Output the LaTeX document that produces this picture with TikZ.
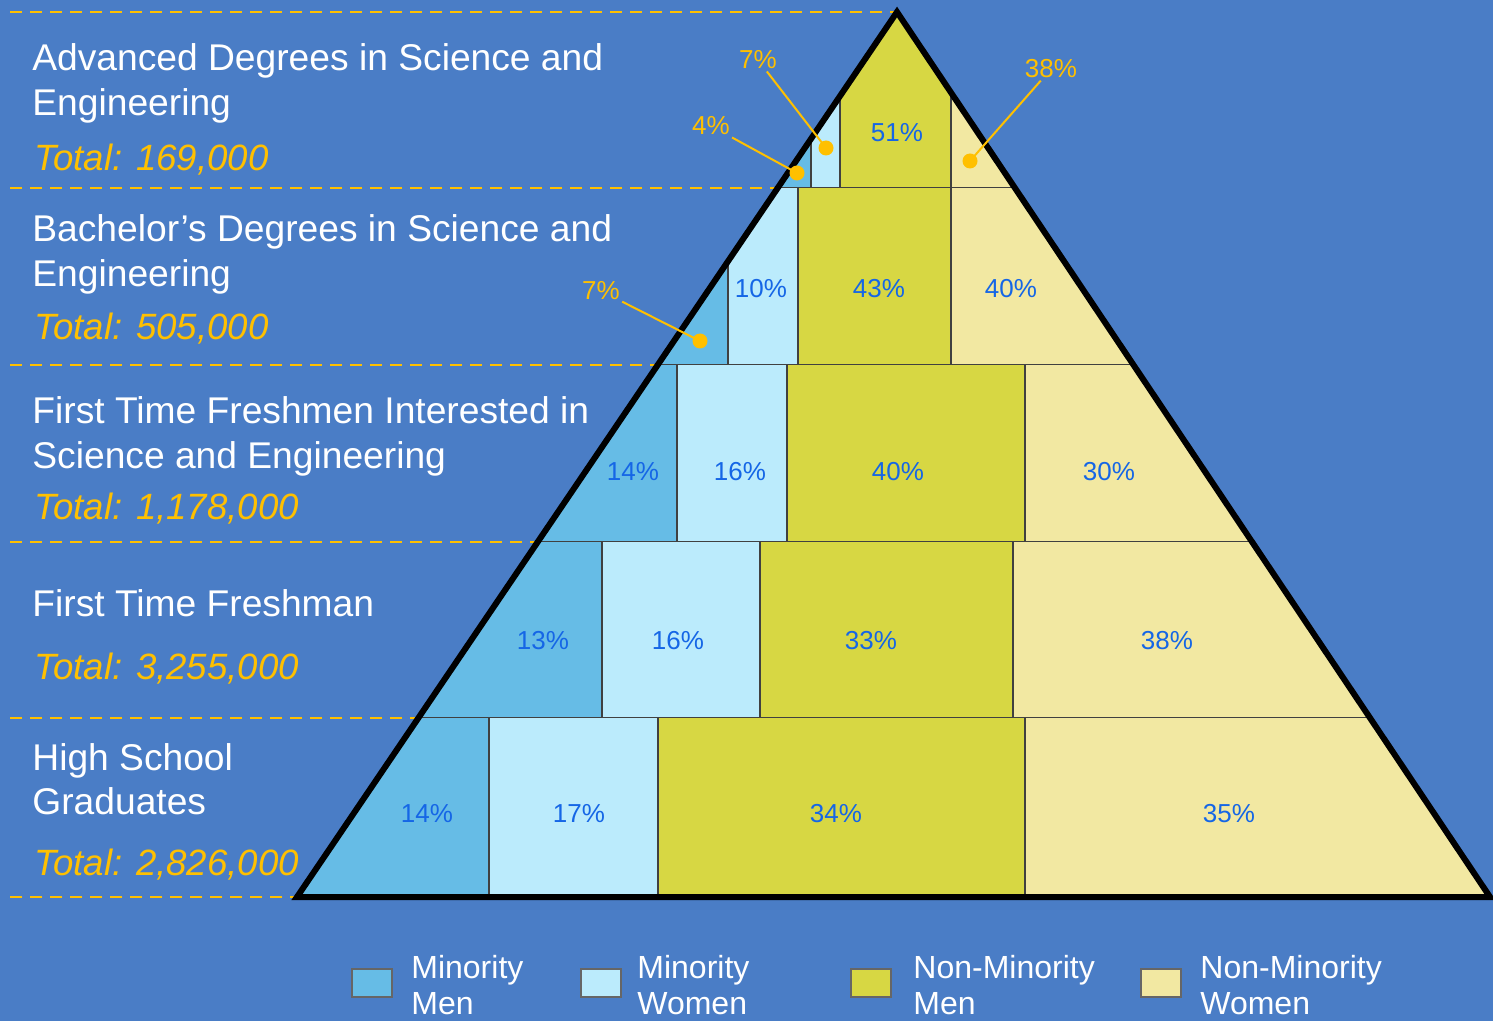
\documentclass[tikz,border=0pt]{standalone}
\usepackage{fontspec}
\setmainfont{Liberation Sans}
\usetikzlibrary{calc,positioning}

\definecolor{slide}{HTML}{4A7DC6}
\definecolor{gold}{HTML}{FFC000}
\definecolor{pctblue}{HTML}{1566E6}
\definecolor{mmen}{HTML}{66BCE6}
\definecolor{mwomen}{HTML}{BBEBFC}
\definecolor{nmen}{HTML}{D7D743}
\definecolor{nwomen}{HTML}{F2E8A2}

\tikzset{
  guide/.style={gold, line width=1.3pt, dash pattern=on 6pt off 4pt},
  cellline/.style={draw=black!75, line width=0.8pt},
  outline/.style={black, line width=3pt, line join=miter},
  stage/.style={anchor=base west, text=white, font=\fontsize{18.6}{22}\selectfont, inner sep=0pt},
  total/.style={anchor=base west, text=gold, font=\fontsize{18.3}{22}\selectfont\itshape, inner sep=0pt},
  pct/.style={text=pctblue, font=\fontsize{13}{15}\selectfont, inner sep=1pt},
  callout/.style={text=gold, font=\fontsize{13}{15}\selectfont, inner sep=1pt},
  dot/.style={circle, fill=gold, minimum size=7.5pt, inner sep=0pt},
  pointer/.style={gold, line width=1pt},
  keybox/.style={draw=black!60, line width=1.2pt, minimum width=20pt, minimum height=14pt, inner sep=0pt},
  keytext/.style={anchor=west, text=white, align=left, font=\fontsize{16}{18}\selectfont, inner sep=0pt}
}

\begin{document}
\begin{tikzpicture}[x=0.5pt, y=-0.5pt]
\useasboundingbox (0,0) rectangle (1493,1021);
\fill[slide] (0,0) rectangle (1493,1021);

\coordinate (apex) at (897,12);
\coordinate (bl) at (297,897);
\coordinate (br) at (1490,897);

% level guides
\draw[guide] (10,12) -- (apex);
\foreach \y/\xe in {188/779, 365/659, 542/539, 718/418, 897/297}
  \draw[guide] (10,\y) -- (\xe,\y);

% pyramid cells
\begin{scope}
\clip (apex) -- (br) -- (bl) -- cycle;
\foreach \yt/\yb/\a/\b/\c in {12/188/811/840/951, 188/365/728/798/951,
    365/542/677/787/1025, 542/718/602/760/1013, 718/897/489/658/1025}{
  \fill[mmen] (200,\yt) rectangle (\a,\yb);
  \fill[mwomen] (\a,\yt) rectangle (\b,\yb);
  \fill[nmen] (\b,\yt) rectangle (\c,\yb);
  \fill[nwomen] (\c,\yt) rectangle (1493,\yb);
  \draw[cellline] (\a,\yt) -- (\a,\yb) (\b,\yt) -- (\b,\yb) (\c,\yt) -- (\c,\yb);
  \draw[cellline] (200,\yb) -- (1493,\yb);
}
\end{scope}
\draw[outline] (apex) -- (br) -- (bl) -- cycle;

% left captions
\node[stage] (adv1) at (32,71) {Advanced Degrees in Science and};
\node[stage] (adv2) at (32,116) {Engineering};
\node[total] (advt) at (34,171) {Total: 169,000};
\node[stage] (bac1) at (32,242) {Bachelor’s Degrees in Science and};
\node[stage] (bac2) at (32,287) {Engineering};
\node[total] (bact) at (34,340) {Total: 505,000};
\node[stage] (int1) at (32,423) {First Time Freshmen Interested in};
\node[stage] (int2) at (32,468) {Science and Engineering};
\node[total] (intt) at (34,519) {Total: 1,178,000};
\node[stage] (fre1) at (32,616) {First Time Freshman};
\node[total] (fret) at (34,679) {Total: 3,255,000};
\node[stage] (hs1) at (32,770) {High School};
\node[stage] (hs2) at (32,814) {Graduates};
\node[total] (hst) at (34,875) {Total: 2,826,000};

% percentages
\node[pct] (adv-nm) at (897,133) {51\%};
\node[pct] (bac-mw) at (761,289) {10\%};
\node[pct] (bac-nm) at (879,289) {43\%};
\node[pct] (bac-nw) at (1011,289) {40\%};
\node[pct] (int-mm) at (633,472) {14\%};
\node[pct] (int-mw) at (740,472) {16\%};
\node[pct] (int-nm) at (898,472) {40\%};
\node[pct] (int-nw) at (1109,472) {30\%};
\node[pct] (fre-mm) at (543,641) {13\%};
\node[pct] (fre-mw) at (678,641) {16\%};
\node[pct] (fre-nm) at (871,641) {33\%};
\node[pct] (fre-nw) at (1167,641) {38\%};
\node[pct] (hs-mm) at (427,814) {14\%};
\node[pct] (hs-mw) at (579,814) {17\%};
\node[pct] (hs-nm) at (836,814) {34\%};
\node[pct] (hs-nw) at (1229,814) {35\%};

% callouts for the small cells
\node[callout] (adv-mw) at (758,60) {7\%};
\node[callout] (adv-mm) at (711,126) {4\%};
\node[callout] (adv-nw) at (1051,69) {38\%};
\node[callout] (bac-mm) at (601,291) {7\%};
\node[dot] (adv-mw-dot) at (826,148) {};
\node[dot] (adv-mm-dot) at (797,173) {};
\node[dot] (adv-nw-dot) at (970,161) {};
\node[dot] (bac-mm-dot) at (700,341) {};
\draw[pointer] (adv-mw) -- (adv-mw-dot.center);
\draw[pointer] (adv-mm) -- (adv-mm-dot.center);
\draw[pointer] (adv-nw) -- (adv-nw-dot.center);
\draw[pointer] (bac-mm) -- (bac-mm-dot.center);

% legend
\foreach \x/\tx/\col/\name/\lbl in {372/411/mmen/kmm/{Minority\\Men},
    601/637/mwomen/kmw/{Minority\\Women}, 871/913/nmen/knm/{Non-Minority\\Men},
    1161/1200/nwomen/knw/{Non-Minority\\Women}}{
  \node[keybox, fill=\col] (\name) at (\x,983) {};
  \node[keytext] (\name-t) at (\tx,985) {\lbl};
}
\end{tikzpicture}
\end{document}
